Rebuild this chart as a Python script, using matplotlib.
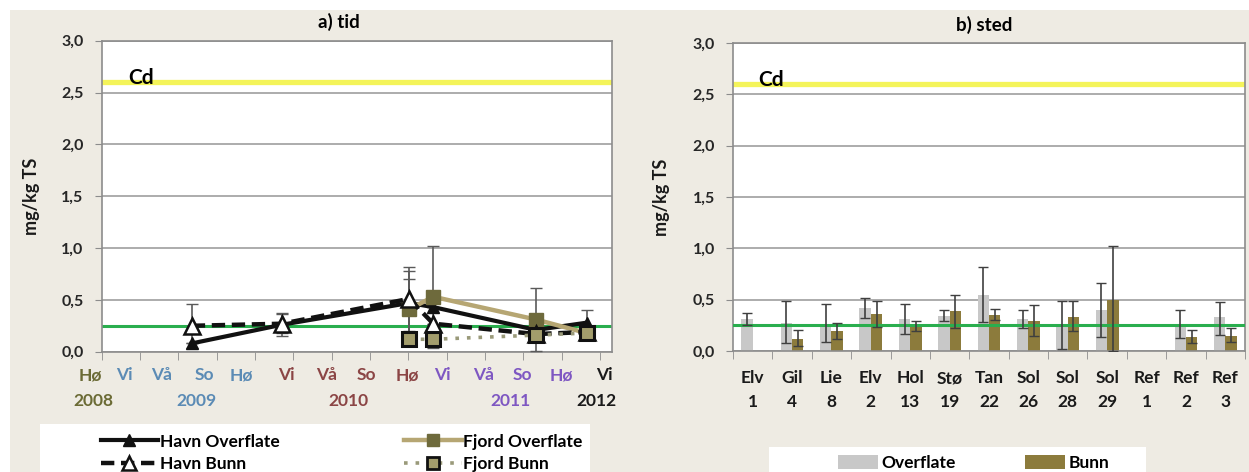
import matplotlib
matplotlib.use('Agg')
import matplotlib.pyplot as plt
import numpy as np
from matplotlib.lines import Line2D
from matplotlib.patches import Rectangle, Patch

plt.rcParams['font.family'] = ['Lato', 'DejaVu Sans']
plt.rcParams['font.weight'] = 'bold'

# ---------------- data: panel a) tid ----------------
time_pos = [2.35, 4.70, 8.02, 8.65, 11.33, 12.65]
havn_overflate = [0.08, 0.26, 0.47, 0.43, 0.21, 0.28]
havn_overflate_err = [0.0, 0.11, 0.31, 0.0, 0.0, 0.12]
havn_bunn = [0.25, 0.27, 0.51, 0.27, 0.17, 0.19]
havn_bunn_err = [0.21, 0.09, 0.31, 0.0, 0.0, 0.0]
fjord_pos = [8.02, 8.65, 11.33, 12.65]
fjord_overflate = [0.41, 0.53, 0.31, 0.18]
fjord_overflate_err = [0.29, 0.49, 0.30, 0.0]
fjord_bunn = [0.12, 0.12, 0.16, 0.18]

season_labels = ['Hø', 'Vi', 'Vå', 'So', 'Hø', 'Vi', 'Vå', 'So', 'Hø', 'Vi', 'Vå', 'So', 'Hø', 'Vi']
season_pos = [-0.3, 0.6, 1.57, 2.69, 3.65, 4.83, 5.87, 6.9, 7.97, 8.88, 9.95, 10.98, 11.98, 13.1]
year_labels = ['2008', '2009', '2010', '2011', '2012']
year_pos = [-0.23, 2.48, 6.43, 10.65, 12.91]
year_colors = ['#6b6b35', '#5b8bb5', '#8b4545', '#7e57c2', '#1a1a1a']
season_group = [0, 1, 1, 1, 1, 2, 2, 2, 2, 3, 3, 3, 3, 4]

# ---------------- data: panel b) sted ----------------
stations = ['Elv\n1', 'Gil\n4', 'Lie\n8', 'Elv\n2', 'Hol\n13', 'Stø\n19', 'Tan\n22',
            'Sol\n26', 'Sol\n28', 'Sol\n29', 'Ref\n1', 'Ref\n2', 'Ref\n3']
nan = np.nan
overflate = [0.31, 0.27, 0.25, 0.42, 0.31, 0.34, 0.55, 0.31, 0.26, 0.40, nan, 0.26, 0.33]
overflate_hi = [0.37, 0.49, 0.46, 0.52, 0.46, 0.40, 0.82, 0.40, 0.49, 0.66, nan, 0.40, 0.48]
overflate_lo = [0.25, 0.08, 0.09, 0.32, 0.17, 0.29, 0.28, 0.22, 0.02, 0.14, nan, 0.13, 0.16]
bunn = [nan, 0.12, 0.19, 0.36, 0.24, 0.39, 0.35, 0.29, 0.33, 0.50, nan, 0.14, 0.15]
bunn_hi = [nan, 0.20, 0.27, 0.49, 0.29, 0.55, 0.41, 0.45, 0.49, 1.02, nan, 0.20, 0.22]
bunn_lo = [nan, 0.05, 0.12, 0.23, 0.19, 0.22, 0.30, 0.15, 0.19, 0.0, nan, 0.08, 0.09]

cd_limit = 2.6
bg_level = 0.25
yticks = [0.0, 0.5, 1.0, 1.5, 2.0, 2.5, 3.0]
ytick_labels = ['0,0', '0,5', '1,0', '1,5', '2,0', '2,5', '3,0']

# ---------------- styles ----------------
BEIGE = '#eeebe3'
GRID = '#a6a6a6'
YELLOW = '#f4f45a'
GREEN = '#2aae4e'
EC = '#3f3f3f'

W, H = 1249, 472
fig = plt.figure(figsize=(W / 100, H / 100), dpi=100)
fig.patch.set_facecolor('white')
fig.add_artist(Rectangle((10 / W, 0), 1 - 10 / W, (H - 10) / H, transform=fig.transFigure,
                         facecolor=BEIGE, edgecolor='none', zorder=-10))

axa = fig.add_axes([101.7 / W, (H - 351.7) / H, (612 - 101.7) / W, (351.7 - 40.7) / H])
axb = fig.add_axes([733 / W, (H - 351) / H, (1245 - 733) / W, (351 - 43) / H])


def style_axes(ax):
    ax.set_facecolor('white')
    ax.set_ylim(0, 3.0)
    ax.set_yticks(yticks)
    ax.set_yticklabels(ytick_labels, fontsize=11.5, fontweight='bold', color='#262626')
    ax.yaxis.grid(True, color=GRID, lw=1.3, zorder=0)
    ax.set_axisbelow(True)
    for s in ax.spines.values():
        s.set_color('#8c8c8c')
        s.set_linewidth(1.2)
    ax.tick_params(axis='y', length=5, color='#8c8c8c', pad=8)
    ax.axhline(cd_limit, color=YELLOW, lw=3.8, zorder=2)
    ax.set_ylabel('mg/kg TS', fontsize=13, fontweight='bold', color='#1a1a1a')


# ---------- panel a ----------
style_axes(axa)
axa.set_xlim(0, 13.31)
axa.set_xticks([])
axa.set_xticks(np.arange(0, 14), minor=True)
axa.tick_params(axis='x', which='minor', length=6, color='#8c8c8c', direction='out')
axa.axhline(bg_level, color=GREEN, lw=2.2, zorder=2)

# error bars
axa.errorbar(time_pos, havn_bunn, yerr=havn_bunn_err, fmt='none', ecolor='#5a5a5a', elinewidth=1.2, capsize=4, zorder=3)
axa.errorbar(time_pos, havn_overflate, yerr=havn_overflate_err, fmt='none', ecolor='#5a5a5a', elinewidth=1.2, capsize=4, zorder=3)
axa.errorbar(fjord_pos, fjord_overflate, yerr=fjord_overflate_err, fmt='none', ecolor='#5a5a5a', elinewidth=1.2, capsize=4, zorder=3)

axa.plot(time_pos, havn_overflate, ls='-', color='#111111', lw=3.0, marker='^', ms=9,
         mfc='#111111', mec='#111111', zorder=4)
axa.plot(fjord_pos, fjord_overflate, ls='-', color='#b6a673', lw=3.2, marker='s', ms=10,
         mfc='#6e6a3c', mec='#6e6a3c', zorder=5)
axa.plot(time_pos, havn_bunn, ls=(0, (3, 1.5)), color='#111111', lw=3.2, marker='^', ms=11,
         mfc='white', mec='#111111', mew=1.8, zorder=6)
axa.plot(fjord_pos, fjord_bunn, ls=(0, (1, 2.2)), color='#9a9a7a', lw=2.6, marker='s', ms=10,
         mfc='#a39d6c', mec='#111111', mew=2.2, zorder=7)

axa.text(0.69, cd_limit - 0.02, 'Cd', fontsize=15, fontweight='bold', va='baseline', ha='left', zorder=8)
axa.set_title('a) tid', fontsize=13.5, fontweight='bold', x=0.465, pad=9)
axa.yaxis.set_label_coords(-0.12, 0.5)

xt = axa.get_xaxis_transform()
for lab, pos, g in zip(season_labels, season_pos, season_group):
    axa.text(pos, -0.075, lab, transform=xt, ha='center', va='center', fontsize=12.5,
             fontweight='bold', color=year_colors[g], clip_on=False)
for lab, pos, c in zip(year_labels, year_pos, year_colors):
    axa.text(pos, -0.158, lab, transform=xt, ha='center', va='center', fontsize=12.5,
             fontweight='bold', color=c, clip_on=False)

# legend a
fig.add_artist(Rectangle((40 / W, 0), (590 - 40) / W, (H - 424) / H, transform=fig.transFigure,
                         facecolor='white', edgecolor='none', zorder=-5))
handles_a = [
    Line2D([], [], ls='-', color='#111111', lw=3.0, marker='^', ms=8, mfc='#111111', mec='#111111'),
    Line2D([], [], ls=(0, (3, 1.5)), color='#111111', lw=3.2, marker='^', ms=10, mfc='white', mec='#111111', mew=1.8),
    Line2D([], [], ls='-', color='#b6a673', lw=3.2, marker='s', ms=9, mfc='#6e6a3c', mec='#6e6a3c'),
    Line2D([], [], ls=(0, (1, 2.2)), color='#9a9a7a', lw=2.6, marker='s', ms=9, mfc='#a39d6c', mec='#111111', mew=2.0),
]
labels_a = ['Havn Overflate', 'Havn Bunn', 'Fjord Overflate', 'Fjord Bunn']
fig.legend(handles_a, labels_a, ncol=2, loc='center left', bbox_to_anchor=(92 / W, (H - 453) / H),
           frameon=False, handlelength=3.3, handletextpad=0.1, columnspacing=7.2,
           labelspacing=0.4, borderpad=0, prop={'weight': 'bold', 'size': 12.5})

# ---------- panel b ----------
style_axes(axb)
xb = np.arange(len(stations))
axb.set_xlim(-0.5, len(stations) - 0.5)
bw = 0.29
axb.bar(xb - bw / 2, overflate, width=bw, color='#c8c8c8', zorder=2)
axb.bar(xb + bw / 2, bunn, width=bw, color='#8c7b3c', zorder=2)
axb.axhline(bg_level, color=GREEN, lw=2.2, zorder=3)
ov = np.array(overflate); bu = np.array(bunn)
axb.errorbar(xb - bw / 2, ov, yerr=[ov - np.array(overflate_lo), np.array(overflate_hi) - ov],
             fmt='none', ecolor=EC, elinewidth=1.2, capsize=3.5, zorder=4)
axb.errorbar(xb + bw / 2, bu, yerr=[bu - np.array(bunn_lo), np.array(bunn_hi) - bu],
             fmt='none', ecolor=EC, elinewidth=1.2, capsize=3.5, zorder=4)
axb.set_xticks(xb)
axb.set_xticklabels(stations, fontsize=12.5, fontweight='bold', color='#1a1a1a', linespacing=1.6)
axb.tick_params(axis='x', which='major', length=0, pad=14)
axb.set_xticks(np.arange(-0.5, len(stations)), minor=True)
axb.tick_params(axis='x', which='minor', length=6, color='#8c8c8c', direction='out')
axb.text(0.13, cd_limit - 0.02, 'Cd', fontsize=15, fontweight='bold', va='baseline', ha='left', zorder=8)
axb.set_title('b) sted', fontsize=13.5, fontweight='bold', x=0.49, pad=9)
axb.yaxis.set_label_coords(-0.123, 0.5)

# legend b
fig.add_artist(Rectangle((769 / W, 0), (1146 - 769) / W, (H - 447) / H, transform=fig.transFigure,
                         facecolor='white', edgecolor='none', zorder=-5))
handles_b = [Patch(facecolor='#c8c8c8', edgecolor='none'), Patch(facecolor='#8c7b3c', edgecolor='none')]
fig.legend(handles_b, ['Overflate', 'Bunn'], ncol=2, loc='center left', bbox_to_anchor=(829 / W, (H - 463) / H),
           frameon=False, handlelength=2.3, handleheight=0.8, handletextpad=0.2, columnspacing=4.0,
           borderpad=0, prop={'weight': 'bold', 'size': 12.5})

fig.savefig('out.png', dpi=100, facecolor=fig.get_facecolor())
